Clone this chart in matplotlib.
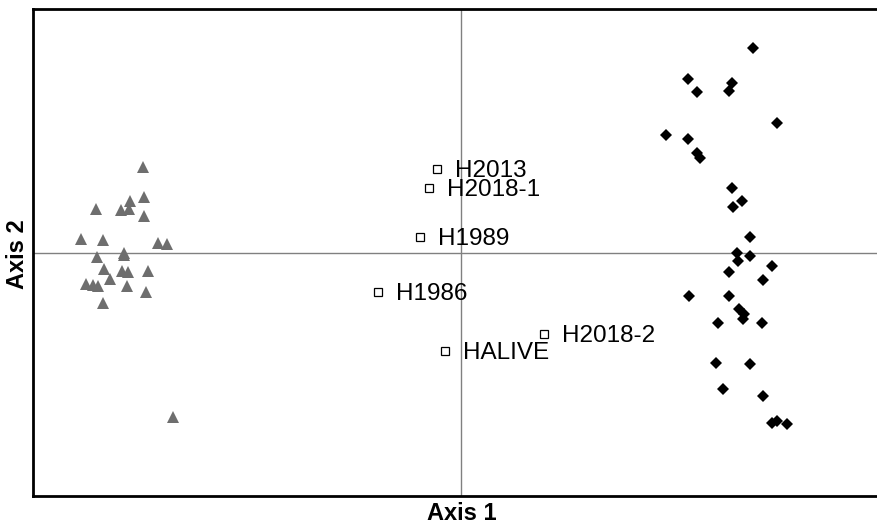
import matplotlib
matplotlib.use("Agg")
import matplotlib.pyplot as plt

plt.rcParams['font.family'] = ['Liberation Sans', 'DejaVu Sans']

# Group A (gray triangles)
tri_x = [-3.18, -3.65, -3.40, -3.31, -3.32, -3.17, -3.17, -3.80, -3.58, -3.03,
         -2.94, -3.64, -3.37, -3.37, -3.57, -3.39, -3.33, -3.13, -3.51, -3.75,
         -3.68, -3.63, -3.34, -3.15, -3.58, -2.88]
tri_y = [0.86, 0.44, 0.43, 0.52, 0.44, 0.56, 0.37, 0.14, 0.13, 0.10,
         0.09, -0.04, 0.00, -0.02, -0.16, -0.18, -0.19, -0.18, -0.26, -0.31,
         -0.32, -0.33, -0.33, -0.39, -0.50, -1.64]

# Group B (black diamonds)
dia_x = [2.92, 2.27, 2.36, 2.71, 2.68, 3.16, 2.05, 2.27, 2.36, 2.39,
         2.71, 2.81, 2.72, 2.89, 2.76, 2.89, 2.77, 3.11, 2.68, 3.02,
         2.28, 2.68, 2.78, 2.83, 2.82, 2.57, 3.01, 2.55, 2.89, 2.62,
         3.02, 3.11, 3.16, 3.26]
dia_y = [2.05, 1.74, 1.61, 1.70, 1.62, 1.30, 1.18, 1.14, 1.00, 0.95,
         0.65, 0.52, 0.46, 0.16, 0.00, -0.03, -0.08, -0.13, -0.19, -0.27,
         -0.43, -0.43, -0.56, -0.61, -0.66, -0.70, -0.70, -1.10, -1.11, -1.36,
         -1.43, -1.70, -1.68, -1.71]

# Labelled samples (open squares)
sq_labels = ['H2013', 'H2018-1', 'H1989', 'H1986', 'H2018-2', 'HALIVE']
sq_x = [-0.24, -0.32, -0.41, -0.83, 0.83, -0.16]
sq_y = [0.84, 0.65, 0.16, -0.39, -0.81, -0.98]

W, H = 877, 526
fig = plt.figure(figsize=(W / 100, H / 100), dpi=100)
left, right, top, bottom = 33, 882, 9, 496
ax = fig.add_axes([left / W, (H - bottom) / H, (right - left) / W, (bottom - top) / H])

ax.set_xlim(-4.28, 4.21)
ax.set_ylim(-2.43, 2.44)

ax.axhline(0, color='#808080', lw=1.0, zorder=1)
ax.axvline(0, color='#808080', lw=1.0, zorder=1)

ax.plot(tri_x, tri_y, linestyle='none', marker='^', markersize=8.5,
        color='#6e6e6e', markeredgewidth=0, zorder=3)
ax.plot(dia_x, dia_y, linestyle='none', marker='D', markersize=6.2,
        color='black', markeredgewidth=0, zorder=3)
ax.plot(sq_x, sq_y, linestyle='none', marker='s', markersize=5.5,
        markerfacecolor='white', markeredgecolor='black', markeredgewidth=0.9, zorder=3)

for lab, x, y in zip(sq_labels, sq_x, sq_y):
    ax.annotate(lab, (x, y), xytext=(13, -1.5), textcoords='offset points',
                fontsize=17.5, va='center', ha='left', color='black')

for s in ax.spines.values():
    s.set_linewidth(2)
    s.set_color('black')
ax.set_xticks([])
ax.set_yticks([])

fig.text(462 / W, 1 - 514 / H, 'Axis 1', fontsize=17, fontweight='bold',
         ha='center', va='center')
fig.text(17.5 / W, 1 - 254 / H, 'Axis 2', fontsize=17, fontweight='bold',
         ha='center', va='center', rotation=90)

fig.savefig('out.png', dpi=100)
